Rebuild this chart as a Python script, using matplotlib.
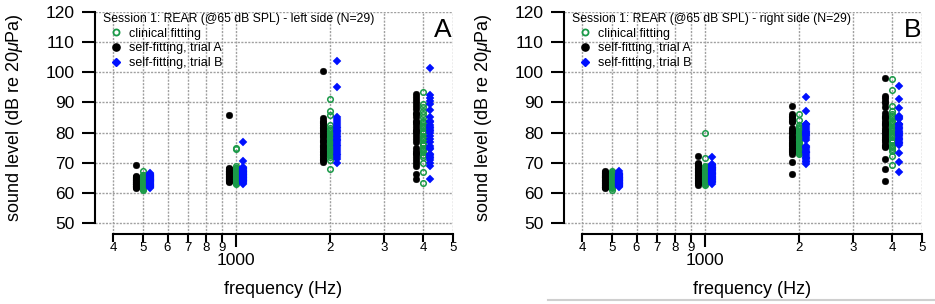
import numpy as np
import matplotlib
matplotlib.use("Agg")
import matplotlib.pyplot as plt
from matplotlib.ticker import FixedLocator, FixedFormatter
from matplotlib.lines import Line2D

plt.rcParams['font.family'] = ['Liberation Sans', 'DejaVu Sans']
plt.rcParams['mathtext.fontset'] = 'custom'
plt.rcParams['mathtext.rm'] = 'Liberation Sans'
plt.rcParams['mathtext.it'] = 'Liberation Sans:italic'

# ---------------- data ----------------
frequencies = [500, 1000, 2000, 4000]
series_names = ["clinical fitting", "self-fitting, trial A", "self-fitting, trial B"]
panel_titles = ["Session 1: REAR (@65 dB SPL) - left side (N=29)",
                "Session 1: REAR (@65 dB SPL) - right side (N=29)"]
panel_letters = ["A", "B"]
y_ticks = [50, 60, 70, 80, 90, 100, 110, 120]
x_minor_ticks = [400, 500, 600, 700, 800, 900, 2000, 3000, 4000, 5000]
x_minor_labels = ["4", "5", "6", "7", "8", "9", "2", "3", "4", "5"]
x_major_ticks = [1000]
x_major_labels = ["1000"]

left_trialA = [
    [69.2, 65.6, 65.3, 65.0, 64.8, 64.6, 64.4, 64.2, 64.0, 63.8, 63.6, 63.4, 63.2, 63.0, 62.8,
     62.6, 62.4, 62.2, 62.0, 61.8, 61.6, 64.1, 63.5, 62.9, 63.7, 64.5, 62.3, 63.1, 65.1],
    [85.9, 68.2, 67.9, 67.6, 67.3, 67.0, 66.7, 66.4, 66.1, 65.8, 65.5, 65.2, 64.9, 64.6, 64.3,
     64.0, 63.7, 68.0, 67.4, 66.8, 66.2, 65.6, 65.0, 64.4, 63.8, 67.1, 66.5, 65.3, 64.7],
    [100.5, 84.8, 84.0, 83.2, 82.4, 81.6, 80.8, 80.0, 79.2, 78.4, 77.6, 76.8, 76.0, 75.2, 74.4,
     73.6, 72.8, 72.0, 71.2, 70.4, 83.6, 82.0, 80.4, 78.8, 77.2, 75.6, 74.0, 72.4, 70.8],
    [92.8, 91.8, 90.8, 89.8, 88.8, 87.8, 86.0, 85.0, 84.0, 83.0, 82.0, 81.0, 80.0, 79.0, 78.0,
     77.0, 74.8, 73.8, 72.8, 71.8, 70.8, 69.8, 68.8, 66.1, 64.6, 86.5, 83.5, 80.5, 73.3],
]
left_clinical = [
    [67.3, 66.0, 65.6, 65.3, 65.0, 64.7, 64.4, 64.1, 63.9, 63.6, 63.3, 63.0, 62.7, 62.4, 62.1,
     61.8, 61.4, 61.1, 64.9, 64.2, 63.5, 62.9, 62.3, 65.8, 64.6, 63.8, 62.5, 61.6, 63.2],
    [75.0, 74.4, 68.8, 68.4, 68.0, 67.6, 67.2, 66.8, 66.4, 66.0, 65.6, 65.2, 64.8, 64.4, 64.0,
     63.6, 63.2, 68.2, 67.4, 66.6, 65.8, 65.0, 64.2, 63.4, 67.8, 66.2, 65.4, 64.6, 63.0],
    [91.0, 87.3, 85.8, 82.5, 81.5, 80.8, 80.2, 79.6, 79.0, 78.4, 77.8, 77.2, 76.6, 76.0, 75.4,
     74.8, 74.2, 73.6, 73.0, 72.4, 71.8, 70.9, 67.9, 81.0, 79.3, 78.1, 76.9, 75.1, 73.3],
    [93.5, 89.5, 88.5, 87.3, 86.0, 85.0, 84.0, 83.0, 82.2, 81.4, 80.6, 79.8, 79.0, 78.2, 77.4,
     76.6, 75.8, 75.0, 74.2, 73.4, 72.6, 71.8, 70.0, 66.9, 63.2, 83.5, 80.2, 77.8, 74.6],
]
left_trialB = [
    [66.7, 66.3, 65.9, 65.6, 65.3, 65.0, 64.7, 64.4, 64.1, 63.8, 63.5, 63.2, 62.9, 62.6, 62.3,
     62.0, 61.7, 66.0, 65.1, 64.5, 63.9, 63.0, 62.4, 61.9, 64.8, 63.6, 62.7, 65.5, 64.2],
    [76.8, 70.6, 68.6, 68.2, 67.8, 67.4, 67.0, 66.6, 66.2, 65.8, 65.4, 65.0, 64.6, 64.2, 63.8,
     63.4, 63.0, 68.4, 67.6, 66.8, 66.0, 65.2, 64.4, 63.6, 67.2, 66.4, 65.6, 64.8, 64.0],
    [103.7, 95.0, 85.0, 84.4, 83.8, 83.2, 82.6, 82.0, 81.4, 80.8, 80.2, 79.6, 79.0, 78.4, 77.8,
     77.2, 76.6, 76.0, 75.4, 74.8, 74.2, 73.6, 73.0, 72.4, 71.8, 71.2, 70.0, 80.5, 77.5],
    [101.5, 92.5, 91.5, 90.5, 89.5, 87.5, 85.0, 83.5, 82.5, 82.0, 81.5, 81.0, 80.5, 80.0, 79.0,
     78.0, 75.5, 75.0, 74.5, 73.0, 72.5, 72.0, 71.5, 71.0, 70.0, 69.0, 64.7, 77.0, 84.0],
]

right_trialA = [
    [67.2, 66.9, 66.6, 66.3, 66.0, 65.7, 65.4, 65.1, 64.8, 64.5, 64.2, 63.9, 63.6, 63.3, 63.0,
     62.7, 62.4, 62.1, 61.8, 61.6, 66.7, 65.9, 65.2, 64.3, 63.4, 62.6, 61.9, 64.0, 65.5],
    [72.3, 70.0, 69.6, 69.2, 68.8, 68.4, 68.0, 67.6, 67.2, 66.8, 66.4, 66.0, 65.6, 65.2, 64.8,
     64.4, 64.0, 63.6, 63.2, 62.5, 69.4, 68.2, 67.0, 65.8, 64.6, 63.4, 66.6, 65.0, 67.8],
    [88.9, 86.0, 85.2, 84.4, 83.6, 81.4, 80.6, 79.8, 79.0, 78.2, 77.4, 76.6, 75.8, 75.0, 74.2,
     73.4, 72.8, 70.3, 66.3, 85.6, 84.0, 80.2, 78.6, 77.0, 75.4, 73.8, 81.0, 76.2, 74.6],
    [98.0, 92.2, 91.4, 90.6, 89.8, 86.4, 85.6, 84.8, 84.0, 83.2, 82.4, 81.6, 80.8, 80.0, 79.2,
     78.4, 77.6, 76.8, 76.0, 75.2, 71.1, 67.9, 63.9, 85.0, 82.8, 80.4, 78.0, 75.6, 88.5],
]
right_clinical = [
    [67.3, 66.8, 66.4, 66.0, 65.6, 65.2, 64.8, 64.4, 64.0, 63.6, 63.2, 62.8, 62.4, 62.0, 61.6,
     60.8, 66.6, 65.8, 65.0, 64.2, 63.4, 62.6, 61.8, 66.2, 65.4, 64.6, 63.8, 63.0, 62.2],
    [80.0, 71.4, 69.0, 68.6, 68.2, 67.8, 67.4, 67.0, 66.6, 66.2, 65.8, 65.4, 65.0, 64.6, 64.2,
     63.8, 63.4, 63.0, 62.6, 68.4, 67.6, 66.8, 66.0, 65.2, 64.4, 63.6, 67.2, 65.6, 64.0],
    [86.1, 84.1, 82.5, 81.8, 81.2, 80.6, 80.0, 79.4, 78.8, 78.2, 77.6, 77.0, 76.4, 75.8, 75.2,
     74.6, 74.0, 73.4, 72.8, 81.5, 80.3, 79.1, 77.9, 76.7, 75.5, 74.3, 73.1, 78.5, 76.1],
    [97.8, 94.1, 88.8, 87.2, 86.0, 84.8, 84.0, 83.2, 82.4, 81.6, 80.8, 80.0, 79.2, 78.4, 77.6,
     76.8, 76.0, 75.2, 74.4, 72.2, 69.1, 85.4, 83.6, 82.0, 80.4, 78.8, 77.2, 75.6, 73.8],
]
right_trialB = [
    [67.2, 66.6, 66.0, 65.6, 65.2, 64.8, 64.4, 64.0, 63.6, 63.2, 62.8, 62.4, 62.0, 66.3, 65.4,
     64.6, 63.8, 63.0, 62.2, 65.0, 64.2, 63.4, 62.6, 65.8, 64.9, 64.1, 63.3, 62.5, 66.1],
    [71.8, 69.5, 69.1, 68.7, 68.3, 67.9, 67.5, 67.1, 66.7, 66.3, 65.9, 65.5, 65.1, 64.7, 64.3,
     63.9, 63.5, 63.1, 69.3, 68.5, 67.7, 66.9, 66.1, 65.3, 64.5, 63.7, 68.1, 66.5, 64.9],
    [91.7, 87.3, 83.0, 82.4, 81.8, 81.2, 80.6, 80.0, 79.4, 78.8, 78.2, 77.6, 75.5, 74.9, 74.3,
     73.7, 73.1, 72.5, 71.9, 71.3, 70.7, 70.1, 69.5, 82.7, 80.3, 79.1, 75.2, 73.4, 71.6],
    [95.3, 91.0, 88.3, 85.6, 85.0, 84.4, 83.0, 82.4, 81.8, 81.2, 80.6, 80.0, 79.4, 78.8, 78.2,
     77.6, 77.0, 76.4, 75.8, 73.3, 70.1, 67.0, 84.7, 82.7, 81.5, 80.3, 79.1, 77.9, 76.7],
]

# ---------------- style ----------------
GREEN = '#1a9a48'
BLUE = '#0010ff'
OFFSET = 1.053  # horizontal separation factor between the three series (log axis)

W, H = 935, 304
fig = plt.figure(figsize=(W / 100, H / 100), dpi=100)

def px_axes(left, top, width, height):
    return fig.add_axes([left / W, 1 - (top + height) / H, width / W, height / H])

panels = [
    (px_axes(95, 12, 358, 222), left_clinical, left_trialA, left_trialB),
    (px_axes(564, 12, 358, 222), right_clinical, right_trialA, right_trialB),
]

for i, (ax, clin, trA, trB) in enumerate(panels):
    ax.set_xscale('log')
    for f, a_vals, c_vals, b_vals in zip(frequencies, trA, clin, trB):
        ax.plot(np.full(len(a_vals), f / OFFSET), a_vals, 'o', ms=4.8, mfc='black', mec='black',
                mew=0.3, ls='none', zorder=3)
        ax.plot(np.full(len(c_vals), f), c_vals, 'o', ms=4.0, mfc='none', mec=GREEN,
                mew=1.1, ls='none', zorder=4)
        ax.plot(np.full(len(b_vals), f * OFFSET), b_vals, 'D', ms=3.8, mfc=BLUE, mec=BLUE,
                mew=0.3, ls='none', zorder=5)

    ax.set_xlim(350, 5000)
    ax.set_ylim(46.35, 120)

    # axes styling (Igor-like)
    for s in ['top', 'right']:
        ax.spines[s].set_visible(False)
    ax.spines['left'].set_bounds(50, 120)
    ax.spines['bottom'].set_bounds(400, 5000)
    ax.spines['left'].set_linewidth(1.5)
    ax.spines['bottom'].set_linewidth(1.5)

    ax.yaxis.set_major_locator(FixedLocator(y_ticks))
    ax.tick_params(axis='y', which='major', direction='out', length=9.5, width=1.5,
                   pad=5, labelsize=12.5)

    ax.xaxis.set_major_locator(FixedLocator(x_major_ticks))
    ax.xaxis.set_major_formatter(FixedFormatter(x_major_labels))
    ax.xaxis.set_minor_locator(FixedLocator(x_minor_ticks))
    ax.xaxis.set_minor_formatter(FixedFormatter(x_minor_labels))
    ax.tick_params(axis='x', which='major', direction='out', length=9.5, width=1.5,
                   pad=4.5, labelsize=12.5)
    ax.tick_params(axis='x', which='minor', direction='out', length=5.5, width=1.5,
                   pad=0.4, labelsize=9.5)

    ax.grid(True, which='both', axis='x', color='#a0a0a0', lw=1.0, ls=(0, (1.5, 1)), zorder=0)
    ax.grid(True, which='major', axis='y', color='#a0a0a0', lw=1.0, ls=(0, (1.5, 1)), zorder=0)
    ax.set_axisbelow(True)

    ax.set_xlabel('frequency (Hz)', fontsize=13)
    ax.xaxis.label.set_va('center')
    ax.xaxis.set_label_coords(0.525, -0.252)
    ax.set_ylabel(r'sound level (dB re 20$\mu$Pa)', fontsize=13)
    ax.yaxis.label.set_va('center')
    ax.yaxis.set_label_coords(-0.226, 0.525)

    handles = [
        Line2D([], [], marker='o', ms=4.4, mfc='none', mec=GREEN, mew=1.3, ls='none'),
        Line2D([], [], marker='o', ms=5.2, mfc='black', mec='black', ls='none'),
        Line2D([], [], marker='D', ms=4.4, mfc=BLUE, mec=BLUE, ls='none'),
    ]
    ax.legend(handles, series_names, title=panel_titles[i], loc='upper left',
              bbox_to_anchor=(0.022, 1.0 - 1.0 / 222), frameon=False,
              prop={'family': 'Liberation Sans', 'size': 9.0},
              title_fontproperties={'family': 'Liberation Sans', 'size': 8.8},
              handlelength=2.08, handletextpad=0.0,
              labelspacing=0.22, borderpad=0.0, borderaxespad=0.0,
              alignment='left')

    ax.text(0.997, 0.975, panel_letters[i], transform=ax.transAxes, ha='right', va='top',
            fontsize=19)

# faint separator line below panel B (as in the reference)
fig.add_artist(Line2D([548 / W, 1.0], [4 / H, 4 / H], color='#cfcfcf', lw=1.5))

fig.savefig('out.png', dpi=100)
